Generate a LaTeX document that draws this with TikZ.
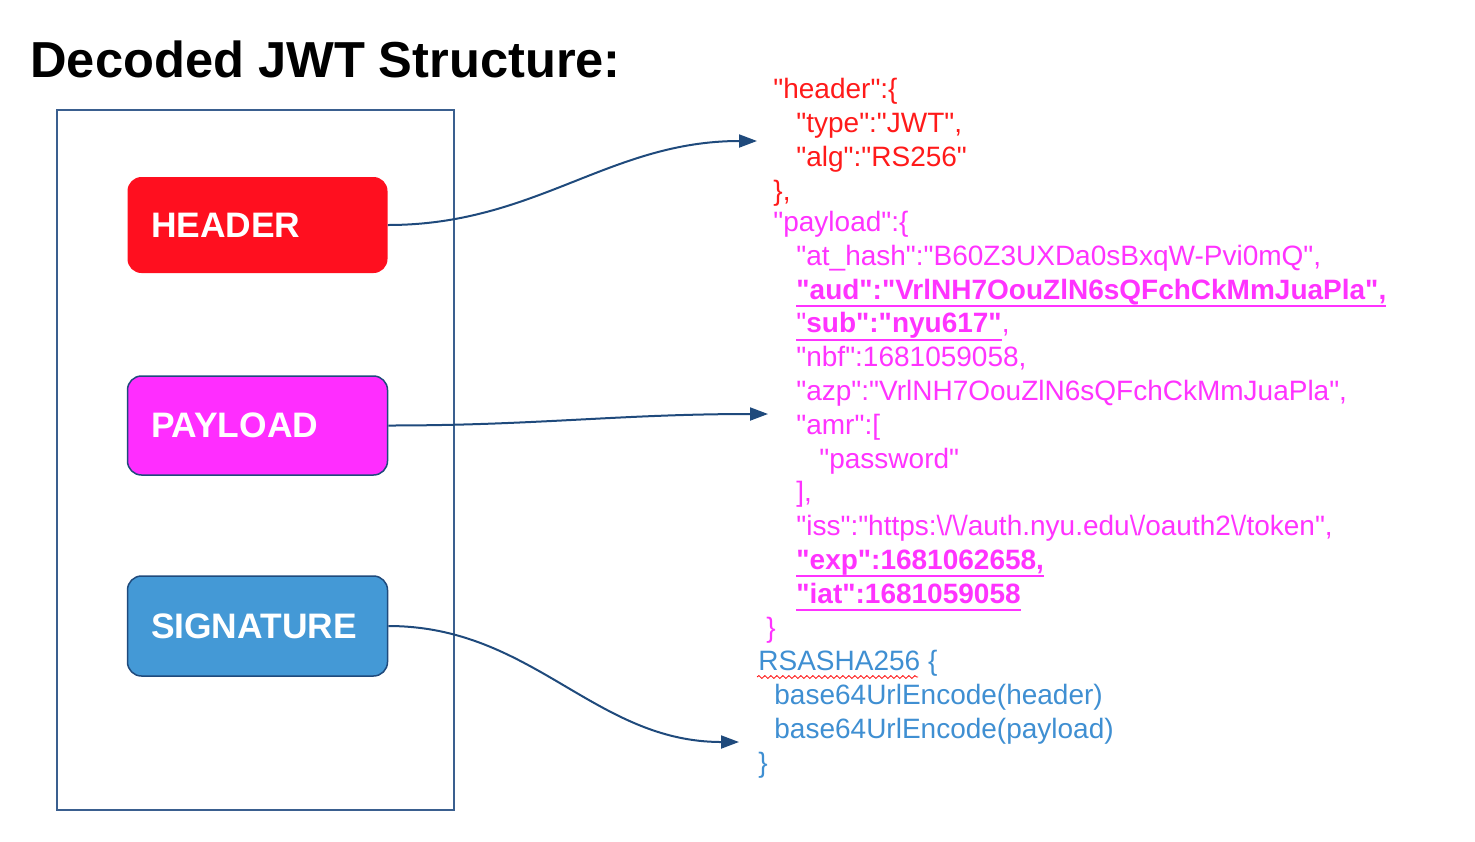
\documentclass[tikz,border=0pt]{standalone}
\usepackage{fontspec}
\setmainfont[Ligatures=TeXOff]{Liberation Sans}
\usepackage{tikz}
\usetikzlibrary{positioning}
\usetikzlibrary{arrows.meta}
\usetikzlibrary{decorations.pathmorphing}

\definecolor{hdrred}{HTML}{FF0F1F}
\definecolor{hdrtext}{HTML}{FF1A1A}
\definecolor{pldpink}{HTML}{FF2DFF}
\definecolor{pldtext}{HTML}{FF33FF}
\definecolor{sigblue}{HTML}{4499D6}
\definecolor{sigtext}{HTML}{3F8FD2}
\definecolor{linkblue}{HTML}{1F4A7C}
\definecolor{frameblue}{HTML}{3A5F8F}

\newcommand{\jsonul}[1]{\setbox0\hbox{#1}\rlap{\rule[-4pt]{\wd0}{1pt}}\box0}

\tikzset{
  partbox/.style={align=left,text width=106.5pt,inner xsep=11.5pt,inner ysep=0pt,
    minimum width=130pt,rounded corners=7pt,text=white,
    font=\fontsize{17.7pt}{21pt}\selectfont\bfseries},
  jsonblock/.style={align=left,inner sep=0pt,anchor=base west,
    font=\fontsize{14pt}{16.9pt}\selectfont},
  link/.style={-{Triangle[length=9pt,width=6.5pt]},line width=1pt,color=linkblue}
}

\begin{document}
\begin{tikzpicture}[x=0.5pt,y=-0.5pt]
  \useasboundingbox (0,0) rectangle (1475,841);

  \node at (30,77) [anchor=base west,inner sep=0pt,font=\fontsize{25.3pt}{30pt}\selectfont\bfseries] (title) {
    Decoded JWT Structure:
  };

  \node at (255.5,460) [draw=frameblue,line width=0.75pt,minimum width=198.5pt,minimum height=350pt,inner sep=0pt] (frame) {};

  \node at (257.5,225) [partbox,fill=hdrred,minimum height=48pt] (header) {
    HEADER
  };

  \node at (257.5,425.5) [partbox,fill=pldpink,draw=linkblue,line width=0.75pt,minimum height=49.5pt] (payload) {
    PAYLOAD
  };

  \node at (257.5,626) [partbox,fill=sigblue,draw=linkblue,line width=0.75pt,minimum height=50pt] (signature) {
    SIGNATURE
  };

  \node at (773,200) [jsonblock,text=hdrtext] (hdrjson) {
    "header":\{\\
    \hspace*{11.5pt}"type":"JWT",\\
    \hspace*{11.5pt}"alg":"RS256"\\
    \},
  };

  \node at (766,637) [jsonblock,text=pldtext] (pldjson) {
    \hspace*{3.5pt}"payload":\{\\
    \hspace*{15pt}"at\_hash":"B60Z3UXDa0sBxqW-Pvi0mQ",\\
    \hspace*{15pt}\jsonul{\textbf{"aud":"VrlNH7OouZlN6sQFchCkMmJuaPla",}}\\
    \hspace*{15pt}\jsonul{"\textbf{sub":"nyu617"}},\\
    \hspace*{15pt}"nbf":1681059058,\\
    \hspace*{15pt}"azp":"VrlNH7OouZlN6sQFchCkMmJuaPla",\\
    \hspace*{15pt}"amr":[\\
    \hspace*{26.5pt}"password"\\
    \hspace*{15pt}],\\
    \hspace*{15pt}"iss":"https:\textbackslash/\textbackslash/auth.nyu.edu\textbackslash/oauth2\textbackslash/token",\\
    \hspace*{15pt}\jsonul{\textbf{"exp":1681062658,}}\\
    \hspace*{15pt}\jsonul{\textbf{"iat":1681059058}}\\
    \}
  };

  \node at (758,772) [jsonblock,text=sigtext] (sigjson) {
    RSASHA256 \{\\
    \hspace*{8pt}base64UrlEncode(header)\\
    \hspace*{8pt}base64UrlEncode(payload)\\
    \}
  };

  \draw[red,line width=0.4pt,decorate,decoration={snake,amplitude=0.7pt,segment length=3pt}]
    (757,677) -- (918,677);

  \coordinate (hdrtip) at (757,141);
  \coordinate (pldtip) at (768,414);
  \coordinate (sigtip) at (739,742);

  \path[link] (header.east) edge[out=0,in=180] (hdrtip);
  \path[link] (payload.east) edge[out=0,in=180] (pldtip);
  \path[link] (signature.east) edge[out=0,in=180] (sigtip);
\end{tikzpicture}
\end{document}
